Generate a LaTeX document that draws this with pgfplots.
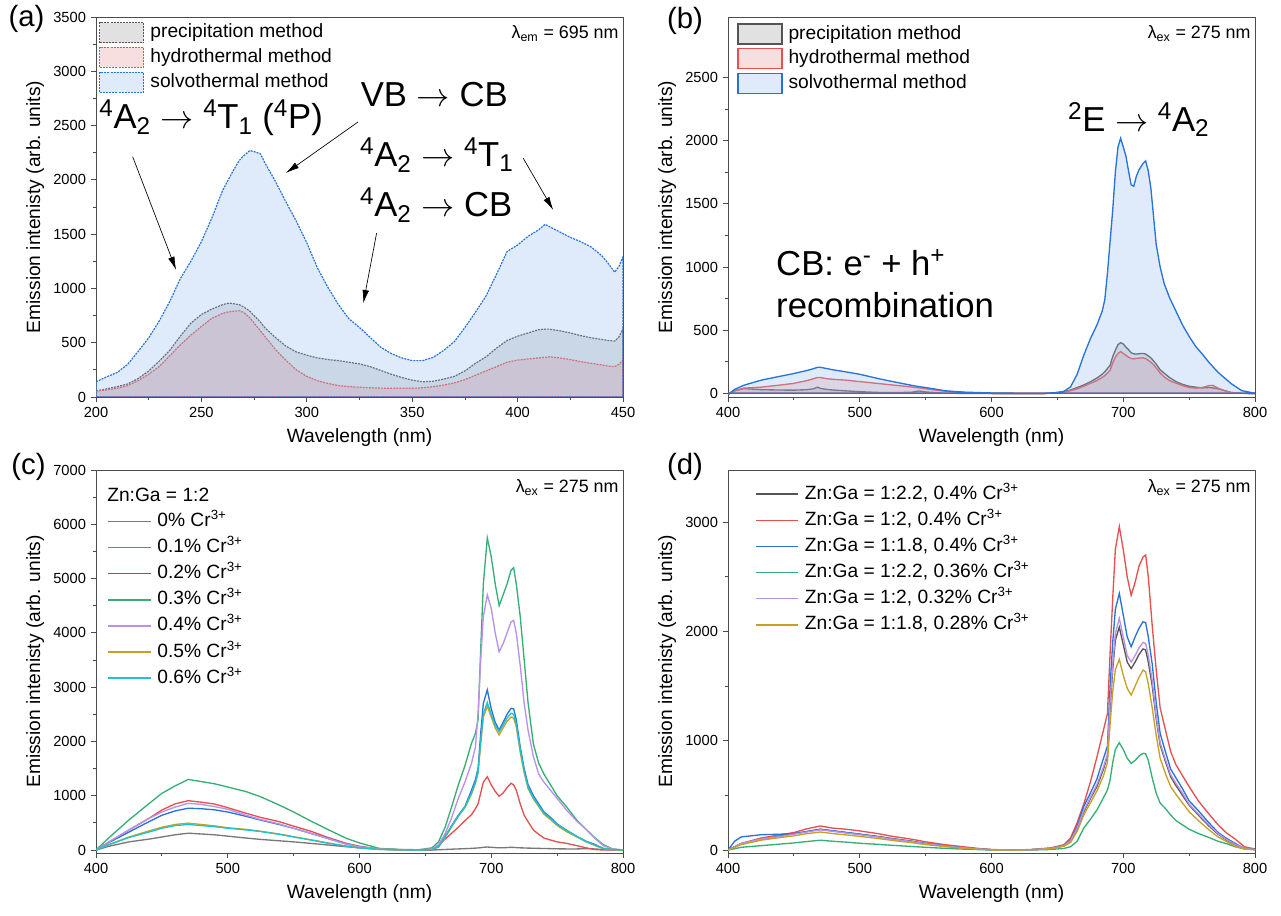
\documentclass[border=0pt]{standalone}
\usepackage{fontspec}
\setmainfont{Liberation Sans}
\usepackage{pgfplots}
\pgfplotsset{compat=1.18}
\usepackage{pgfplotstable}
\usetikzlibrary{arrows.meta}

\definecolor{cgray}{RGB}{85,85,85}
\definecolor{cgrayc}{RGB}{120,120,120}
\definecolor{cred}{RGB}{230,80,80}
\definecolor{cblue}{RGB}{40,115,215}
\definecolor{cgreen}{RGB}{55,175,115}
\definecolor{cpurple}{RGB}{185,145,235}
\definecolor{cgold}{RGB}{200,160,35}
\definecolor{ccyan}{RGB}{30,195,205}
\definecolor{fblue}{RGB}{150,190,240}
\definecolor{fgray}{RGB}{120,120,120}
\definecolor{fred}{RGB}{225,110,110}

\pgfplotstableread{
x prec hydro solvo
200 55 55 140
205 75 65 185
210 95 80 225
215 120 105 300
220 170 150 420
225 240 210 545
230 330 280 700
235 430 380 880
240 560 480 1090
245 680 570 1250
250 760 650 1430
255 810 725 1650
260 850 770 1900
263 865 785 2010
265 860 790 2080
268 850 795 2180
270 830 780 2220
273 790 730 2270
275 750 680 2260
278 690 610 2240
280 640 560 2160
285 550 440 1990
290 470 340 1800
295 415 250 1620
300 385 190 1420
305 360 150 1190
310 345 125 1010
315 335 105 850
320 320 95 720
325 305 90 640
330 280 85 550
335 245 82 460
340 210 80 400
345 180 80 360
350 155 80 335
355 140 85 335
360 145 95 365
365 165 110 430
370 190 130 510
375 240 160 640
380 310 200 780
385 370 240 930
390 450 280 1130
395 520 320 1340
400 560 340 1400
405 590 350 1480
410 620 360 1540
413 625 365 1590
415 625 370 1570
420 610 360 1520
425 590 345 1470
430 565 325 1430
435 545 310 1380
440 530 295 1300
443 520 285 1230
446 515 280 1150
448 550 300 1200
450 630 340 1290
}\tabA

\pgfplotstableread{
x prec hydro solvo
400 -10 -10 -10
405 20 20 30
412 37 40 63
425 28 48 103
440 25 65 135
450 24 78 156
460 28 100 180
465 35 115 195
468 48 125 205
470 38 125 205
475 30 115 195
480 25 110 185
490 18 103 168
500 12 92 150
514 6 77 116
525 5 65 92
539 7 50 63
545 18 42 52
550 10 35 45
565 0 15 19
580 -2 5 8
600 -3 0 2
620 -5 -3 0
640 -3 -3 0
650 5 5 5
655 12 10 15
660 25 20 50
665 45 35 150
670 65 55 300
675 90 78 430
680 120 100 540
684 150 125 650
686 170 140 740
688 195 160 950
690 220 180 1200
692 290 240 1450
694 340 285 1750
696 385 315 1950
698 400 330 2020
700 390 315 1950
702 365 300 1880
704 345 285 1760
706 320 275 1650
708 312 272 1640
710 310 275 1720
712 313 278 1770
715 315 280 1820
717 310 275 1840
719 295 260 1760
721 280 245 1620
723 255 225 1400
725 230 200 1180
728 185 160 1000
731 160 130 870
735 125 100 760
740 92 80 650
745 70 60 540
750 55 45 450
755 48 40 370
760 42 45 310
765 45 60 245
768 42 62 210
772 35 40 165
777 20 20 120
782 5 5 75
790 0 0 20
795 -3 0 10
800 -5 0 0
}\tabB

\pgfplotstableread{
x c0 c1 c2 c3 c4 c5 c6
400 0 0 0 0 0 0 0
410 70 150 140 230 150 100 100
425 150 368 330 553 370 240 230
440 200 580 520 850 580 350 330
450 240 737 640 1044 700 420 400
460 280 850 720 1180 790 470 450
470 310 909 770 1300 860 495 470
480 295 880 760 1260 840 470 450
490 280 847 740 1220 800 445 430
500 255 780 700 1160 750 410 400
514 220 676 620 1075 640 380 370
525 195 600 550 980 560 345 340
539 170 522 470 829 480 295 290
550 150 440 400 700 400 245 240
564 120 338 300 522 300 185 180
575 95 240 220 390 220 135 130
590 60 123 110 215 110 72 70
600 40 70 60 130 60 40 40
615 20 15 15 30 20 10 10
630 8 5 5 10 5 5 5
645 0 0 0 5 5 0 0
655 0 0 10 40 20 10 10
660 5 80 60 150 100 55 60
665 10 200 250 420 300 230 240
670 15 310 450 800 600 430 440
675 20 420 640 1200 950 620 630
680 25 540 800 1550 1250 780 790
685 30 650 1100 1965 1597 1030 1050
688 35 760 1300 2150 1900 1230 1250
690 38 850 1500 2400 2520 1420 1450
692 42 1050 2149 3700 3500 1950 2000
694 50 1250 2700 4900 4300 2450 2500
697 55 1350 2950 5750 4700 2650 2720
700 50 1200 2600 5400 4450 2450 2500
703 45 1080 2350 4900 4000 2250 2300
706 40 990 2210 4500 3650 2120 2180
709 42 1050 2350 4700 3800 2250 2300
712 45 1150 2500 4900 4000 2370 2430
715 50 1230 2610 5150 4200 2450 2520
717 48 1200 2600 5200 4230 2430 2500
719 45 1100 2400 4900 4000 2270 2320
722 40 850 1900 4300 3400 1800 1850
725 38 640 1500 3500 2700 1420 1450
728 35 520 1200 2700 2200 1130 1150
732 33 368 1000 1950 1719 940 960
736 30 290 850 1600 1400 800 820
740 28 220 700 1400 1250 660 680
745 25 184 600 1200 1100 560 580
750 22 150 480 1000 950 450 470
757 20 123 368 800 740 340 360
765 20 80 250 550 530 240 250
772 25 40 160 380 380 150 160
778 20 10 110 240 230 90 100
785 10 0 30 100 80 25 30
792 5 0 10 20 20 5 10
800 0 0 0 0 0 0 0
}\tabC

\pgfplotstableread{
x d0 d1 d2 d3 d4 d5
400 0 0 0 0 0 0
405 30 30 80 12 30 25
410 60 60 120 25 60 50
425 100 110 140 40 100 90
440 130 140 145 55 125 115
450 150 160 150 65 145 130
460 170 195 170 78 165 150
470 190 220 190 90 185 165
480 175 200 175 80 170 150
490 160 190 160 72 155 138
500 145 175 145 62 140 125
514 125 150 120 52 120 105
525 105 125 100 43 100 88
539 82 100 80 33 78 68
550 60 75 60 25 58 50
564 40 50 40 16 38 32
575 25 35 25 10 24 20
590 10 15 10 4 10 8
600 3 5 3 0 3 2
615 0 0 0 0 0 0
630 3 5 3 0 3 3
645 15 20 15 5 15 12
655 40 50 40 15 40 35
660 80 110 90 30 85 70
665 190 250 220 80 200 170
670 350 420 400 200 360 320
675 470 620 520 280 480 430
680 580 850 650 366 600 540
685 740 1098 840 480 760 680
688 860 1250 950 549 880 800
690 1300 1800 1494 640 1350 1150
692 1650 2300 1900 800 1700 1450
694 1920 2750 2200 920 1980 1650
697 2040 2960 2348 982 2120 1745
700 1880 2750 2150 920 1950 1600
703 1720 2500 1950 840 1780 1480
706 1660 2330 1860 793 1720 1418
709 1720 2450 1950 820 1780 1500
712 1790 2600 2030 860 1850 1580
715 1840 2680 2089 885 1900 1647
717 1830 2700 2080 880 1890 1630
719 1720 2500 1950 820 1780 1520
722 1500 2050 1700 660 1550 1300
725 1200 1650 1350 520 1230 1050
728 960 1300 1067 430 980 840
732 810 1100 900 380 830 700
736 670 900 740 320 690 580
740 590 780 660 270 610 510
745 500 680 560 230 520 430
750 410 580 450 190 420 350
757 320 450 360 152 330 270
765 220 330 250 115 230 185
772 145 230 160 80 150 120
778 95 160 110 60 100 80
785 45 100 60 30 50 35
792 15 30 15 10 15 10
800 5 10 5 3 5 3
}\tabD

\newcommand{\lf}{\fontsize{14.4}{16}\selectfont}
\newcommand{\lamf}{\fontsize{13.4}{15}\selectfont}

\pgfplotsset{
  myax/.style={
    scale only axis, width=395.25pt,
    axis line style={draw=black!70, line width=0.6pt},
    tick align=outside, xtick pos=bottom, ytick pos=left,
    tick style={draw=black!70, line width=0.6pt},
    major tick length=4pt, minor tick length=2.5pt, minor tick num=1,
    ticklabel style={font=\fontsize{11}{13}\selectfont},
    label style={font=\lf},
    xlabel style={yshift=-1.5pt},
    /pgf/number format/assume math mode=true,
    /pgf/number format/1000 sep={},
    xlabel={Wavelength (nm)},
    ylabel={Emission intenisty (arb. units)},
    legend cell align=left,
    legend style={draw=none, fill=none, font=\lf, anchor=north west, inner sep=0pt,
      nodes={inner xsep=0pt, inner ysep=0pt, text height=10.5pt, text depth=3pt},
      /tikz/every odd column/.append style={column sep=4.5pt}},
  },
  boxleg/.style={legend style={row sep=2.6pt},
    legend image code/.code={\draw[##1] (0pt,-7.5pt) rectangle (33pt,7.5pt);}},
  lineleg/.style={legend style={row sep=6.1pt},
    legend image code/.code={\draw[##1, line width=1.1pt] (0pt,0pt) -- (32pt,0pt);}},
}
\tikzset{annot/.style={font=\fontsize{26}{30}\selectfont, inner sep=0pt},
  arr/.style={-{Latex[length=10pt,width=5pt]}, line width=0.5pt, black}}

\begin{document}
\begin{tikzpicture}
\useasboundingbox (0,0) rectangle (960.75pt,687pt);

% (a)
\begin{axis}[myax, boxleg, at={(72pt,389.25pt)}, anchor=south west, height=285pt,
  xmin=200, xmax=450, ymin=0, ymax=3500,
  xtick={200,250,...,450}, ytick={0,500,...,3500},
  legend style={at={(axis description cs:0.0057,0.987)}}]
\addplot[draw=cgray, line width=0.9pt, dash pattern=on 1.5pt off 0.8pt, fill=fgray, fill opacity=0.22] table[x=x,y=prec]{\tabA} \closedcycle;
\addlegendentry{precipitation method}
\addplot[draw=cred, line width=0.9pt, dash pattern=on 1.5pt off 0.8pt, fill=fred, fill opacity=0.22] table[x=x,y=hydro]{\tabA} \closedcycle;
\addlegendentry{hydrothermal method}
\addplot[draw=cblue, line width=0.9pt, dash pattern=on 1.5pt off 0.8pt, fill=fblue, fill opacity=0.3] table[x=x,y=solvo]{\tabA} \closedcycle;
\addlegendentry{solvothermal method}
\node[anchor=north east, inner sep=0pt, font=\lamf] at (axis description cs:0.992,0.978) {λ\textsubscript{em} = 695 nm};
\node[annot, anchor=west] at (axis cs:201.5,2570) {\textsuperscript{4}A\textsubscript{2} $\rightarrow$ \textsuperscript{4}T\textsubscript{1} (\textsuperscript{4}P)};
\node[annot, anchor=west] at (axis cs:325.5,2781) {VB $\rightarrow$ CB};
\node[annot, anchor=west] at (axis cs:325.2,2229) {\textsuperscript{4}A\textsubscript{2} $\rightarrow$ \textsuperscript{4}T\textsubscript{1}};
\node[annot, anchor=west] at (axis cs:325.2,1768) {\textsuperscript{4}A\textsubscript{2} $\rightarrow$ CB};
\draw[arr] (axis cs:217.4,2213) -- (axis cs:238,1170);
\draw[arr] (axis cs:324.3,2533) -- (axis cs:290.1,2063);
\draw[arr] (axis cs:333.1,1508) -- (axis cs:326.8,863);
\draw[arr] (axis cs:402.7,2198) -- (axis cs:416.9,1722);
\end{axis}

% (b)
\begin{axis}[myax, boxleg, at={(546pt,389.25pt)}, anchor=south west, height=285pt,
  xmin=400, xmax=800, ymin=-30, ymax=2980,
  xtick={400,500,...,800}, ytick={0,500,...,2500},
  legend style={at={(axis description cs:0.017,0.984)}}]
\addplot[draw=cgray, line width=1pt, fill=fgray, fill opacity=0.22] table[x=x,y=prec]{\tabB} \closedcycle;
\addlegendentry{precipitation method}
\addplot[draw=cred, line width=1pt, fill=fred, fill opacity=0.22] table[x=x,y=hydro]{\tabB} \closedcycle;
\addlegendentry{hydrothermal method}
\addplot[draw=cblue, line width=1pt, fill=fblue, fill opacity=0.3] table[x=x,y=solvo]{\tabB} \closedcycle;
\addlegendentry{solvothermal method}
\node[anchor=north east, inner sep=0pt, font=\lamf] at (axis description cs:0.992,0.978) {λ\textsubscript{ex} = 275 nm};
\node[annot, anchor=west] at (axis cs:658,2167) {\textsuperscript{2}E $\rightarrow$ \textsuperscript{4}A\textsubscript{2}};
\node[annot, anchor=west] at (axis cs:436.4,1032) {CB: e\textsuperscript{-} + h\textsuperscript{+}};
\node[annot, anchor=west] at (axis cs:436.4,698) {recombination};
\end{axis}

% (c)
\begin{axis}[myax, lineleg, at={(72pt,47.25pt)}, anchor=south west, height=287.25pt,
  xmin=400, xmax=800, ymin=-55, ymax=7000,
  xtick={400,500,...,800}, ytick={0,1000,...,7000},
  legend style={at={(axis description cs:0.0209,0.890)}}]
\addplot[color=cgrayc, line width=1pt] table[x=x,y=c0]{\tabC};
\addlegendentry{0\% Cr\textsuperscript{3+}}
\addplot[color=cred, line width=1pt] table[x=x,y=c1]{\tabC};
\addlegendentry{0.1\% Cr\textsuperscript{3+}}
\addplot[color=cblue, line width=1pt] table[x=x,y=c2]{\tabC};
\addlegendentry{0.2\% Cr\textsuperscript{3+}}
\addplot[color=cgreen, line width=1pt] table[x=x,y=c3]{\tabC};
\addlegendentry{0.3\% Cr\textsuperscript{3+}}
\addplot[color=cpurple, line width=1pt] table[x=x,y=c4]{\tabC};
\addlegendentry{0.4\% Cr\textsuperscript{3+}}
\addplot[color=cgold, line width=1pt] table[x=x,y=c5]{\tabC};
\addlegendentry{0.5\% Cr\textsuperscript{3+}}
\addplot[color=ccyan, line width=1pt] table[x=x,y=c6]{\tabC};
\addlegendentry{0.6\% Cr\textsuperscript{3+}}
\node[anchor=west, inner sep=0pt, font=\lf] at (axis description cs:0.0209,0.935) {Zn:Ga = 1:2};
\node[anchor=north east, inner sep=0pt, font=\lamf] at (axis description cs:0.992,0.975) {λ\textsubscript{ex} = 275 nm};
\end{axis}

% (d)
\begin{axis}[myax, lineleg, at={(546pt,47.25pt)}, anchor=south west, height=287.25pt,
  xmin=400, xmax=800, ymin=-27, ymax=3477,
  xtick={400,500,...,800}, ytick={0,1000,...,3000},
  legend style={at={(axis description cs:0.0503,0.961)}}]
\addplot[color=cgray, line width=1pt] table[x=x,y=d0]{\tabD};
\addlegendentry{Zn:Ga = 1:2.2, 0.4\% Cr\textsuperscript{3+}}
\addplot[color=cred, line width=1pt] table[x=x,y=d1]{\tabD};
\addlegendentry{Zn:Ga = 1:2, 0.4\% Cr\textsuperscript{3+}}
\addplot[color=cblue, line width=1pt] table[x=x,y=d2]{\tabD};
\addlegendentry{Zn:Ga = 1:1.8, 0.4\% Cr\textsuperscript{3+}}
\addplot[color=cgreen, line width=1pt] table[x=x,y=d3]{\tabD};
\addlegendentry{Zn:Ga = 1:2.2, 0.36\% Cr\textsuperscript{3+}}
\addplot[color=cpurple, line width=1pt] table[x=x,y=d4]{\tabD};
\addlegendentry{Zn:Ga = 1:2, 0.32\% Cr\textsuperscript{3+}}
\addplot[color=cgold, line width=1pt] table[x=x,y=d5]{\tabD};
\addlegendentry{Zn:Ga = 1:1.8, 0.28\% Cr\textsuperscript{3+}}
\node[anchor=north east, inner sep=0pt, font=\lamf] at (axis description cs:0.992,0.975) {λ\textsubscript{ex} = 275 nm};
\end{axis}

\node[font=\fontsize{22}{24}\selectfont, inner sep=0pt] at (19.9pt,672.75pt) {(a)};
\node[font=\fontsize{22}{24}\selectfont, inner sep=0pt] at (513.75pt,671.25pt) {(b)};
\node[font=\fontsize{22}{24}\selectfont, inner sep=0pt] at (21.4pt,336.75pt) {(c)};
\node[font=\fontsize{22}{24}\selectfont, inner sep=0pt] at (513.75pt,336.75pt) {(d)};
\end{tikzpicture}
\end{document}
